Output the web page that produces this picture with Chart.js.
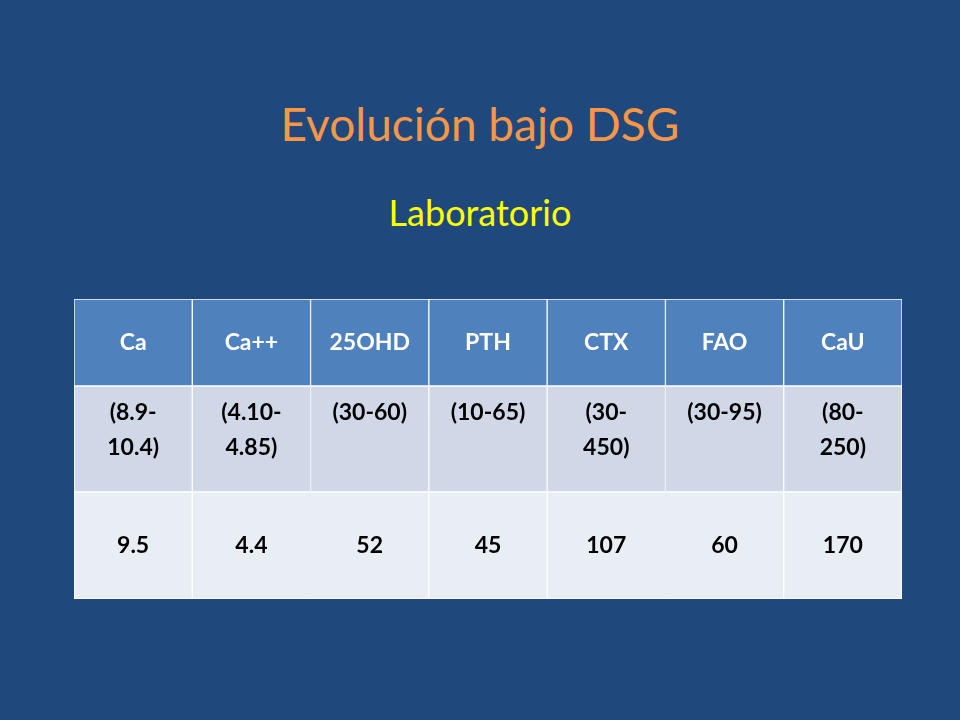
<!DOCTYPE html>
<html><head><meta charset="utf-8">
<script src="https://cdn.jsdelivr.net/npm/chart.js@4"></script>
<style>
html,body{margin:0;padding:0;width:960px;height:720px;background:#1F497D;overflow:hidden;font-family:Lato,"Open Sans",sans-serif}
#t1{position:absolute;top:96px;width:960px;text-align:center;color:#F79646;font-size:46px}
#t2{position:absolute;top:190px;width:960px;text-align:center;color:#FFFF00;font-size:36px}
#wrap{position:absolute;left:74px;top:299px;width:828px;height:300px}
</style></head><body>
<div id="t1">Evolución bajo DSG</div>
<div id="t2">Laboratorio</div>
<div id="wrap"><canvas id="c"></canvas></div>
<script>
const categories=["Ca","Ca++","25OHD","PTH","CTX","FAO","CaU"];
const rangeLines=[["(8.9-","10.4)"],["(4.10-","4.85)"],["(30-60)"],["(10-65)"],["(30-","450)"],["(30-95)"],["(80-","250)"]];
const values=["9.5","4.4","52","45","107","60","170"];
const rowEdges=[0,107,213,300];
const rowColors=["#E9EDF4","#D0D8E8","#4F81BD"];
const datasets=[0,1,2].map(r=>({data:categories.map(()=>[rowEdges[r],rowEdges[r+1]]),backgroundColor:rowColors[r],borderColor:"#ffffff",borderWidth:1,borderSkipped:false,barPercentage:1,categoryPercentage:1}));
const textPlugin={id:"txt",afterDatasetsDraw(chart){
 const ctx=chart.ctx,x=chart.scales.x,y=chart.scales.y;
 ctx.save();ctx.textAlign="center";ctx.textBaseline="middle";ctx.font="bold 23px Lato, 'Open Sans', sans-serif";
 categories.forEach((c,i)=>{
  const px=x.getPixelForValue(i);
  ctx.fillStyle="#ffffff";ctx.fillText(c,px,(y.getPixelForValue(rowEdges[2])+y.getPixelForValue(rowEdges[3]))/2);
  ctx.fillStyle="#000000";
  const top=y.getPixelForValue(rowEdges[2]);
  rangeLines[i].forEach((l,k)=>ctx.fillText(l,px,top+27+k*35));
  ctx.fillText(values[i],px,(y.getPixelForValue(rowEdges[0])+y.getPixelForValue(rowEdges[1]))/2);
 });
 ctx.restore();}};
new Chart(document.getElementById("c"),{type:"bar",data:{labels:categories,datasets},
 options:{responsive:true,maintainAspectRatio:false,animation:false,layout:{padding:0},
  plugins:{legend:{display:false},tooltip:{enabled:false}},
  scales:{x:{display:false,stacked:true},y:{display:false,stacked:false,min:0,max:300}}},plugins:[textPlugin]});
</script></body></html>
